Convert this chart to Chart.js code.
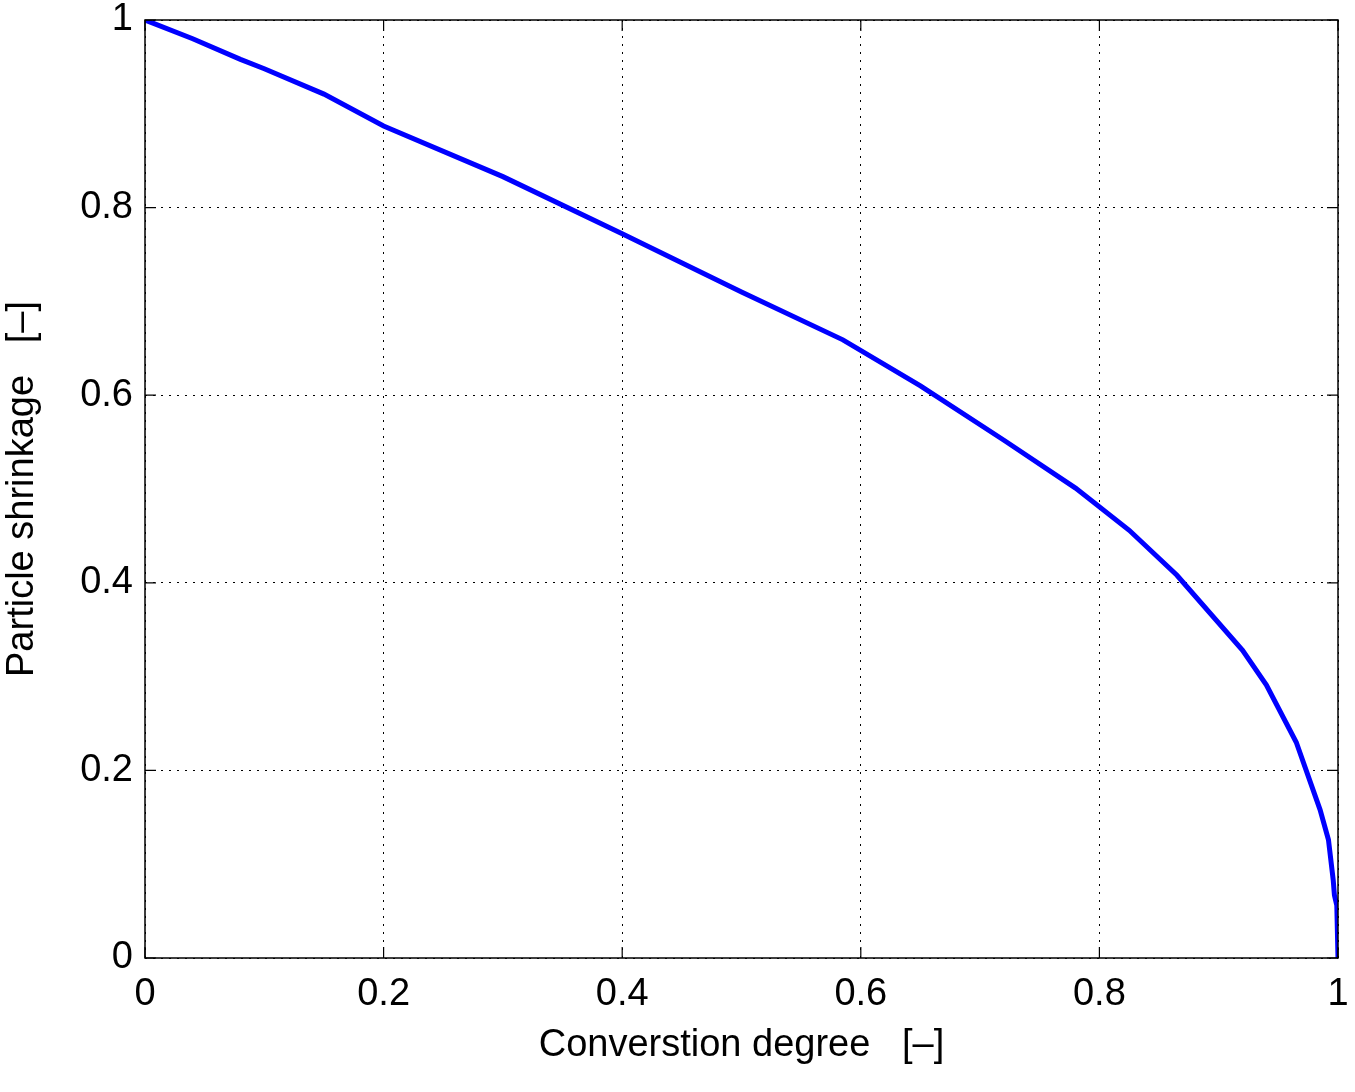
<!DOCTYPE html>
<html><head><meta charset="utf-8">
<script src="https://cdn.jsdelivr.net/npm/chart.js@4/dist/chart.umd.min.js"></script>
<style>html,body{margin:0;padding:0;background:#fff}#w{width:1355px;height:1092px}</style>
</head><body><div id="w"><canvas id="c"></canvas></div>
<script>
const conversion = [0,0.04,0.08,0.1,0.15,0.2,0.3,0.4,0.5,0.585,0.65,0.72,0.78,0.825,0.865,0.92,0.94,0.965,0.985,0.992,0.996,0.997,0.999,1.0];
const shrinkage  = [1,0.98,0.958,0.948,0.921,0.887,0.833,0.772,0.71,0.659,0.61,0.552,0.501,0.456,0.408,0.328,0.291,0.23,0.158,0.126,0.083,0.067,0.056,0.0];
const ticks = [0,0.2,0.4,0.6,0.8,1];
const font = {family:'"Liberation Sans", Arial, sans-serif', size:38};
const innerTicks = {id:'it', afterDraw(ch){
  const c=ch.ctx, a=ch.chartArea, xs=ch.scales.x, ys=ch.scales.y, L=11;
  c.save(); c.strokeStyle='#000'; c.lineWidth=1.2; c.beginPath();
  ticks.forEach(v=>{const px=xs.getPixelForValue(v); c.moveTo(px,a.bottom); c.lineTo(px,a.bottom-L); c.moveTo(px,a.top); c.lineTo(px,a.top+L);
    const py=ys.getPixelForValue(v); c.moveTo(a.left,py); c.lineTo(a.left+L,py); c.moveTo(a.right,py); c.lineTo(a.right-L,py);});
  c.stroke(); c.lineWidth=1.5; c.strokeRect(a.left,a.top,a.right-a.left,a.bottom-a.top); c.restore();}};
const fmt = v => String(+v.toFixed(1));
new Chart(document.getElementById('c'),{type:'scatter',
 data:{datasets:[{data:conversion.map((x,i)=>({x,y:shrinkage[i]})),showLine:true,borderColor:'#0000ff',borderWidth:5,pointRadius:0,tension:0}]},
 options:{responsive:true,maintainAspectRatio:false,animation:false,
  layout:{padding:{top:20,right:17,left:0,bottom:24}},
  plugins:{legend:{display:false},tooltip:{enabled:false}},
  scales:{
   x:{type:'linear',min:0,max:1,afterBuildTicks(s){s.ticks=ticks.map(v=>({value:v}));},
      afterFit(s){s.height=110;s.paddingRight=0;s.paddingLeft=0;},
      grid:{color:'#000',lineWidth:1,drawTicks:false},border:{display:false,dash:[2,6]},
      ticks:{color:'#000',font,padding:14,maxRotation:0,callback:fmt},
      title:{display:true,text:'Converstion degree   [–]',color:'#000',font,padding:{top:0,bottom:0}}},
   y:{type:'linear',min:0,max:1,afterBuildTicks(s){s.ticks=ticks.map(v=>({value:v}));},
      afterFit(s){s.width=145;s.paddingTop=0;s.paddingBottom=0;},
      grid:{color:'#000',lineWidth:1,drawTicks:false},border:{display:false,dash:[2,6]},
      ticks:{color:'#000',font,padding:12,callback:fmt},
      title:{display:true,text:'Particle shrinkage   [–]',color:'#000',font,padding:{top:0,bottom:0}}}}},
 plugins:[innerTicks]});
</script></body></html>
